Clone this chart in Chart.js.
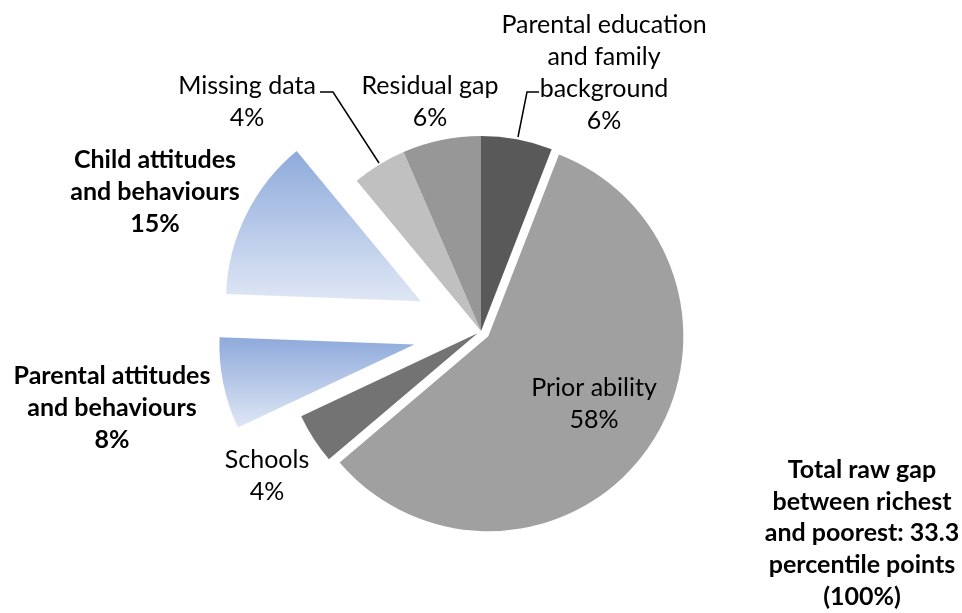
<!DOCTYPE html>
<html>
<head>
<meta charset="utf-8">
<script src="https://cdn.jsdelivr.net/npm/chart.js@4.4.1/dist/chart.umd.min.js"></script>
<style>
  html, body { margin: 0; padding: 0; background: #ffffff; }
  #wrap { width: 962px; height: 613px; position: relative; }
</style>
</head>
<body>
<div id="wrap"><canvas id="c" width="962" height="613"></canvas></div>
<script>
// ---------- data ----------
const categories = [
  'Parental education and family background',
  'Prior ability',
  'Schools',
  'Parental attitudes and behaviours',
  'Child attitudes and behaviours',
  'Missing data',
  'Residual gap'
];
const shares = [5.9, 57.9, 4.2, 7.6, 13.4, 4.5, 6.5];
const shareLabels = ['6%', '58%', '4%', '8%', '15%', '4%', '6%'];
const labelLines = [
  ['Parental education', 'and family', 'background'],
  ['Prior ability'],
  ['Schools'],
  ['Parental attitudes', 'and behaviours'],
  ['Child attitudes', 'and behaviours'],
  ['Missing data'],
  ['Residual gap']
];
const noteLines = ['Total raw gap', 'between richest', 'and poorest: 33.3', 'percentile points', '(100%)'];

// ---------- styles / layout ----------
const style = {
  colors: ['#595959', '#a0a0a0', '#737373', '#a9bfe6', '#a9bfe6', '#c0c0c0', '#979797'],
  gradients: [null, null, null, ['#8eaadb', '#dfe7f5'], ['#8eaadb', '#dfe7f5'], null, null],
  explode: [0, 9, 4, 68, 67, 0, 0],
  bold: [false, false, false, true, true, false, false],
  // label block: centre x, centre y of first line
  labelPos: [[604, 25], [594, 388], [267, 460], [112, 376], [155, 160], [247, 86], [430, 86]],
  notePos: [862, 470],
  lineH: 32,
  font: 'Lato',
  fontSize: 25,
  leaders: [
    [[539, 92], [527, 92], [518, 137]],
    [[320, 92], [333, 92], [379, 163]]
  ]
};

const explodePlugin = {
  id: 'explodeDraw',
  beforeDatasetDraw(chart, args) {
    const ctx = chart.ctx;
    args.meta.data.forEach((arc, i) => {
      const p = arc.getProps(['x', 'y', 'startAngle', 'endAngle', 'outerRadius'], true);
      const mid = (p.startAngle + p.endAngle) / 2;
      const d = style.explode[i] || 0;
      let opts = arc.options;
      const gr = style.gradients[i];
      if (gr) {
        let ymin = p.y, ymax = p.y;
        for (let k = 0; k <= 60; k++) {
          const a = p.startAngle + (p.endAngle - p.startAngle) * k / 60;
          const yy = p.y + p.outerRadius * Math.sin(a);
          ymin = Math.min(ymin, yy); ymax = Math.max(ymax, yy);
        }
        const g = ctx.createLinearGradient(0, ymin, 0, ymax);
        g.addColorStop(0, gr[0]);
        g.addColorStop(1, gr[1]);
        opts = Object.assign({}, arc.options, { backgroundColor: g });
      }
      ctx.save();
      ctx.translate(Math.cos(mid) * d, Math.sin(mid) * d);
      const saved = arc.options;
      arc.options = opts;
      arc.draw(ctx);
      arc.options = saved;
      ctx.restore();
    });
    return false;
  }
};

const labelPlugin = {
  id: 'sliceLabels',
  afterDraw(chart) {
    const ctx = chart.ctx;
    ctx.save();
    ctx.textAlign = 'center';
    ctx.textBaseline = 'middle';
    ctx.fillStyle = '#000000';
    categories.forEach((c, i) => {
      const lines = labelLines[i].concat([shareLabels[i]]);
      ctx.font = (style.bold[i] ? 'bold ' : '') + style.fontSize + 'px ' + style.font;
      const [x, y] = style.labelPos[i];
      lines.forEach((t, k) => ctx.fillText(t, x, y + k * style.lineH));
    });
    ctx.font = 'bold ' + style.fontSize + 'px ' + style.font;
    noteLines.forEach((t, k) => ctx.fillText(t, style.notePos[0], style.notePos[1] + k * 31.7));
    ctx.strokeStyle = '#000000';
    ctx.lineWidth = 1.5;
    style.leaders.forEach(pts => {
      ctx.beginPath();
      pts.forEach((pt, k) => k ? ctx.lineTo(pt[0], pt[1]) : ctx.moveTo(pt[0], pt[1]));
      ctx.stroke();
    });
    ctx.restore();
  }
};

new Chart(document.getElementById('c'), {
  type: 'pie',
  data: {
    labels: categories,
    datasets: [{
      data: shares,
      backgroundColor: style.colors,
      borderWidth: 0,
      radius: 195
    }]
  },
  options: {
    responsive: false,
    animation: false,
    devicePixelRatio: 1,
    layout: { padding: { top: 49, bottom: 0, left: 0, right: 0 } },
    plugins: { legend: { display: false }, tooltip: { enabled: false } }
  },
  plugins: [explodePlugin, labelPlugin]
});
</script>
</body>
</html>
